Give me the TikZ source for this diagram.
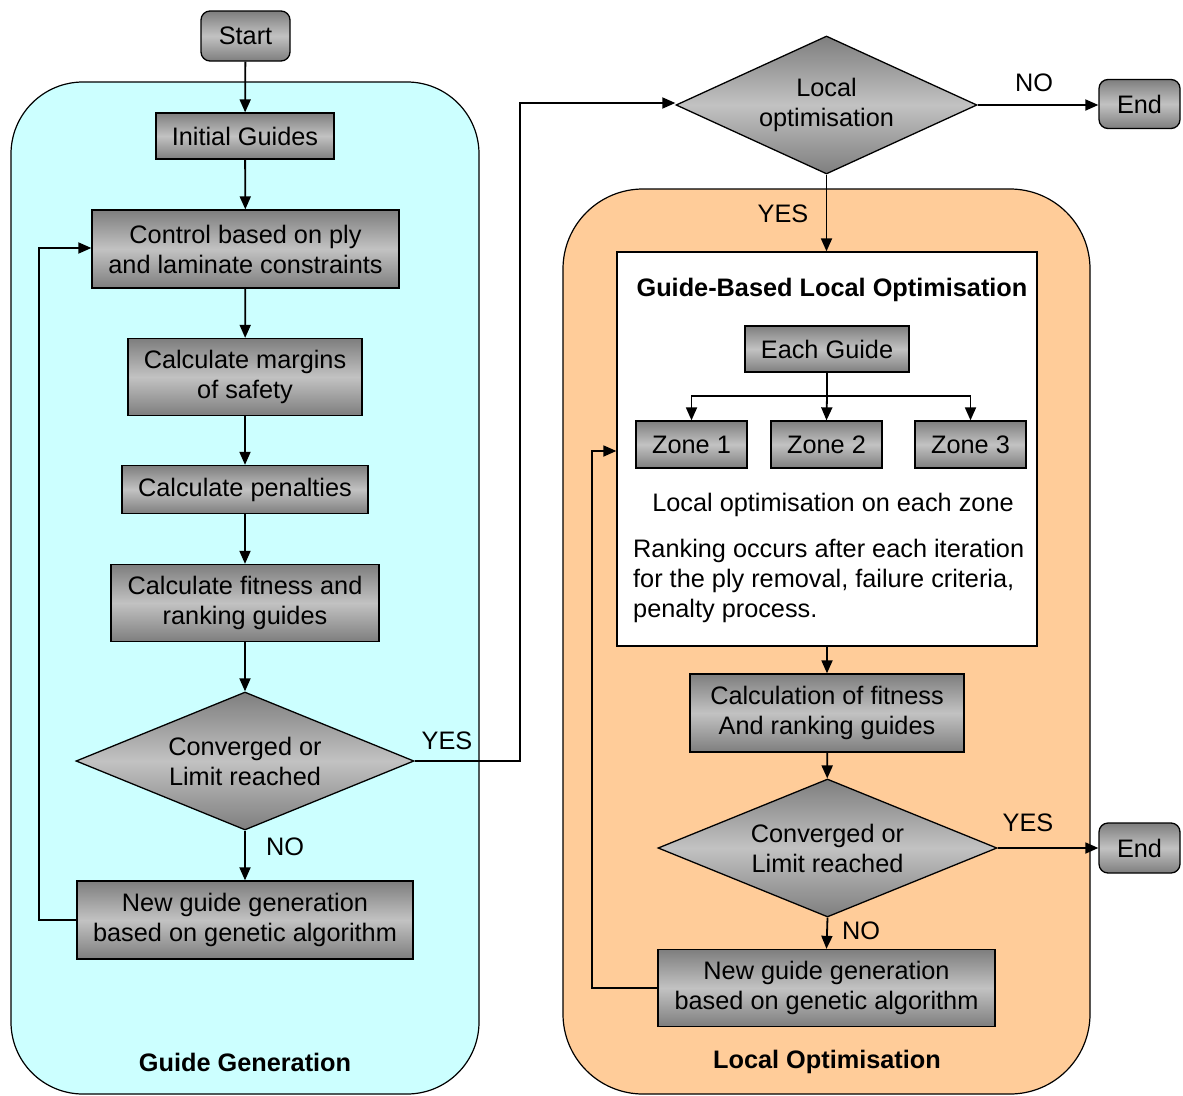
\documentclass[tikz,border=0pt]{standalone}
\usepackage{fontspec}
\setmainfont{Liberation Sans}
\usetikzlibrary{shapes.geometric,arrows.meta}
\definecolor{gdark}{RGB}{126,126,126}
\definecolor{glight}{RGB}{194,194,194}
\definecolor{cyanfill}{RGB}{204,255,255}
\definecolor{orangefill}{RGB}{255,204,153}
\begin{document}
\begin{tikzpicture}[x=1pt,y=-1pt,
  every node/.style={font=\fontsize{25.3}{30}\selectfont},
  gbox/.style={draw, line width=1.3pt, top color=gdark, bottom color=gdark, middle color=glight, inner sep=0pt, align=center},
  rbox/.style={gbox, rounded corners=9pt},
  dbox/.style={gbox, diamond, aspect=2.45},
  conn/.style={line width=1.8pt, -{Triangle[length=13pt,width=11pt]}},
  plain/.style={line width=1.8pt},
  lbl/.style={inner sep=0pt},
  region/.style={draw, line width=1.2pt}
]
\path[use as bounding box] (0,0) rectangle (1183,1095);

% regions
\draw[region, fill=cyanfill, rounded corners=72pt] (11,82) rectangle (479,1094);
\draw[region, fill=orangefill, rounded corners=80pt] (563,189) rectangle (1090,1094);
\node[lbl, font=\fontsize{25.3}{30}\selectfont\bfseries] (rg) at (245,1062) {Guide Generation};
\node[lbl, font=\fontsize{25.3}{30}\selectfont\bfseries] (rl) at (827,1062) {Local Optimisation};

% white box
\node[draw, line width=1.3pt, fill=white, minimum width=420pt, minimum height=394pt, inner sep=0pt] (wb) at (827,449) {};
\node[lbl, font=\fontsize{25.3}{30}\selectfont\bfseries] (wt) at (832,290) {Guide-Based Local Optimisation};

% left column
\node[rbox, minimum width=89pt, minimum height=50pt] (start) at (245.5,36) {Start};
\node[gbox, minimum width=178pt, minimum height=46pt] (ig) at (245,136) {Initial Guides};
\node[gbox, minimum width=307pt, minimum height=78pt] (ctrl) at (245.5,249) {Control based on ply\\and laminate constraints};
\node[gbox, minimum width=234pt, minimum height=77pt] (cm) at (245,377) {Calculate margins\\of safety};
\node[gbox, minimum width=246pt, minimum height=48pt] (cp) at (245,489.5) {Calculate penalties};
\node[gbox, minimum width=268pt, minimum height=77pt] (cf) at (245,603) {Calculate fitness and\\ranking guides};
\node[dbox, minimum width=338pt, minimum height=138pt] (cv1) at (245,761) {Converged or\\Limit reached};
\node[gbox, minimum width=336pt, minimum height=78pt] (ng1) at (245,920) {New guide generation\\based on genetic algorithm};

% right column
\node[dbox, minimum width=301pt, minimum height=138pt] (lo) at (826.5,105) {Local\\optimisation};
\node[rbox, minimum width=81pt, minimum height=49pt] (end1) at (1139.5,104) {End};
\node[gbox, minimum width=164pt, minimum height=46pt] (each) at (827,349) {Each Guide};
\node[gbox, minimum width=111pt, minimum height=47pt] (z1) at (691.5,444.5) {Zone 1};
\node[gbox, minimum width=111pt, minimum height=47pt] (z2) at (826.5,444.5) {Zone 2};
\node[gbox, minimum width=111pt, minimum height=47pt] (z3) at (970.5,444.5) {Zone 3};
\node[lbl] (lz) at (833,505) {Local optimisation on each zone};
\node[lbl, align=left, anchor=west] (rk) at (633,581) {Ranking occurs after each iteration\\for the ply removal, failure criteria,\\penalty process.};
\node[gbox, minimum width=274pt, minimum height=78pt] (cal) at (827,713) {Calculation of fitness\\And ranking guides};
\node[dbox, minimum width=339pt, minimum height=138pt] (cv2) at (827.5,848) {Converged or\\Limit reached};
\node[rbox, minimum width=81pt, minimum height=50pt] (end2) at (1139.5,848) {End};
\node[gbox, minimum width=337pt, minimum height=77pt] (ng2) at (826.5,988) {New guide generation\\based on genetic algorithm};

% labels
\node[lbl] (yes1) at (447,741) {YES};
\node[lbl] (no1) at (285,847) {NO};
\node[lbl] (no2) at (1034,83) {NO};
\node[lbl] (yes2) at (783,214) {YES};
\node[lbl] (yes3) at (1028,823) {YES};
\node[lbl] (no3) at (861,931) {NO};

% coordinates
\coordinate (lp1) at (39,248);
\coordinate (ly) at (520,103);
\coordinate (br) at (827,396);
\coordinate (lp2) at (592,451);

% connectors left
\draw[conn] (start) -- (ig);
\draw[conn] (ig) -- (ctrl);
\draw[conn] (ctrl) -- (cm);
\draw[conn] (cm) -- (cp);
\draw[conn] (cp) -- (cf);
\draw[conn] (cf) -- (cv1);
\draw[conn] (cv1) -- (ng1);
\draw[conn] (ng1.west) -| (lp1) -- (lp1 -| ctrl.west);
\draw[conn] (cv1.east) -| (ly) -- (ly -| lo.west);

% connectors right
\draw[conn] (lo.east) -- (end1.west |- lo.east);
\draw[conn] (lo.south) -- (wb.north -| lo.south);
\draw[plain] (each.south) -- (br);
\draw[conn] (br) -| (z1.north);
\draw[conn] (br) -- (z2.north);
\draw[conn] (br) -| (z3.north);
\draw[conn] (wb.south) -- (cal.north);
\draw[conn] (cal) -- (cv2);
\draw[conn] (cv2.east) -- (end2.west);
\draw[conn] (cv2.south) -- (ng2.north);
\draw[conn] (ng2.west) -| (lp2) -- (lp2 -| wb.west);
\end{tikzpicture}
\end{document}
